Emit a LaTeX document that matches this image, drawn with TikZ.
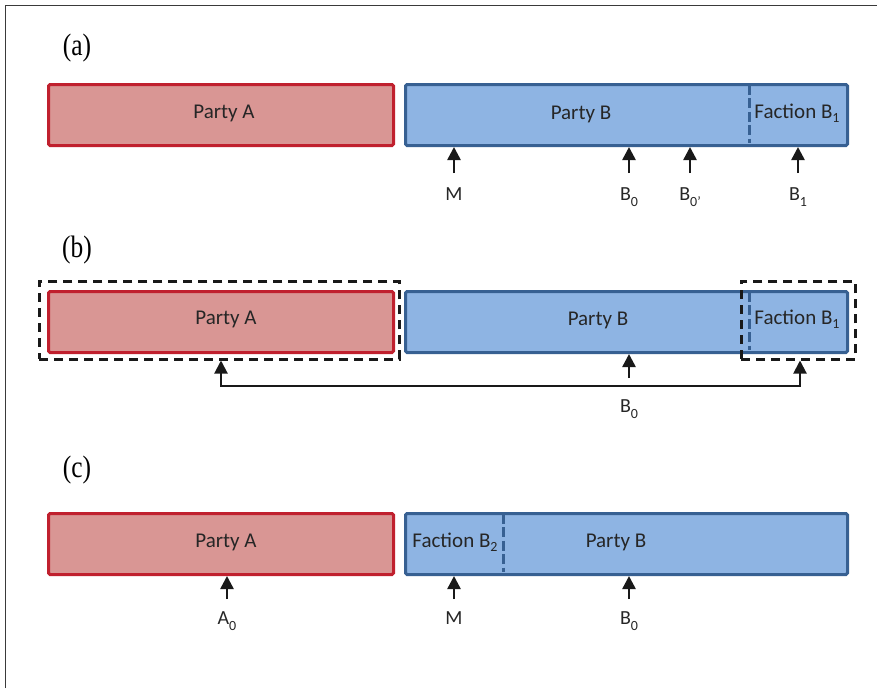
\documentclass[tikz,border=0pt]{standalone}
\usepackage{fontspec}
\setmainfont{Carlito}
\newfontfamily\panelfont{Liberation Serif}
\usetikzlibrary{arrows.meta,calc}

\definecolor{partyAfill}{HTML}{D99694}
\definecolor{partyAline}{HTML}{C0202E}
\definecolor{partyBfill}{HTML}{8EB4E3}
\definecolor{partyBline}{HTML}{376092}
\definecolor{inktext}{HTML}{262626}
\definecolor{frameline}{HTML}{3A3A3A}

% marker label with a low-set index
\newcommand{\lab}[2]{#1\raisebox{-0.7ex}{\fontsize{14}{14}\selectfont #2}}
% subscript inside the party boxes
\newcommand{\idx}[1]{\raisebox{-0.35ex}{\fontsize{14}{14}\selectfont #1}}

\tikzset{
  boxA/.style={draw=partyAline, fill=partyAfill, line width=3pt, rounded corners=1.5pt,
    minimum height=61pt, inner sep=0pt, anchor=north west},
  boxB/.style={draw=partyBline, fill=partyBfill, line width=3pt, rounded corners=1.5pt,
    minimum height=61pt, inner sep=0pt, anchor=north west},
  divider/.style={draw=partyBline, line width=3pt, dash pattern=on 10pt off 3.5pt},
  grouping/.style={draw=black!90, line width=2.5pt, dash pattern=on 9pt off 6pt,
    inner sep=0pt, anchor=north west},
  boxtext/.style={text=inktext, font=\fontsize{21}{21}\selectfont, inner sep=0pt},
  marker/.style={text=inktext, font=\fontsize{20}{20}\selectfont, inner sep=0pt, anchor=north},
  panel/.style={font=\panelfont\fontsize{31}{31}\selectfont, inner sep=0pt},
  arr/.style={draw=black!90, line width=2.5pt,
    -{Triangle[width=13pt,length=13pt]}},
  link/.style={draw=black!90, line width=2pt,
    {Triangle[width=13pt,length=13pt]}-{Triangle[width=13pt,length=13pt]}},
}

\begin{document}
\begin{tikzpicture}[x=1pt, y=-1pt]
  \useasboundingbox (0,0) rectangle (877,688);

  % partial frame (top and left edges)
  \draw[frameline, line width=1.6pt] (5.5,688) -- (5.5,5.5) -- (877,5.5);

  % ---------------- (a) ----------------
  \node[panel] (pa) at (77,48) {\scalebox{0.82}[1]{(a)}};
  \node[boxA, minimum width=345pt] (aA) at (47,83) {};
  \node[boxB, minimum width=442pt] (aB) at (404,83) {};
  \draw[divider] (749,84.5) -- (749,142.5);
  \node[boxtext] (aAt) at (224,113) {Party A};
  \node[boxtext] (aBt) at (581,114) {Party B};
  \node[boxtext] (aFt) at (797,113) {Faction B\idx{1}};

  \node[marker] (aM)  at (454,187) {M};
  \node[marker] (aB0) at (629,187) {\lab{B}{0}};
  \node[marker] (aB0p) at (690,187) {\lab{B}{0’}};
  \node[marker] (aB1) at (798,187) {\lab{B}{1}};
  \foreach \m in {aM,aB0,aB0p,aB1}
    \draw[arr] ($(\m.north)+(0,-14)$) -- (\m.north |- aB.south);

  % ---------------- (b) ----------------
  \node[panel] (pb) at (77,250) {\scalebox{0.82}[1]{(b)}};
  \node[grouping, minimum width=360pt, minimum height=78pt] (gA) at (38,280) {};
  \node[boxA, minimum width=345pt] (bA) at (47,290) {};
  \node[boxB, minimum width=442pt] (bB) at (404,290) {};
  \draw[divider] (749,291.5) -- (749,349.5);
  \node[grouping, minimum width=114pt, minimum height=78pt] (gF) at (740,280) {};
  \node[boxtext] (bAt) at (226,319) {Party A};
  \node[boxtext] (bBt) at (598,320) {Party B};
  \node[boxtext] (bFt) at (797,319) {Faction B\idx{1}};

  \node[marker] (bB0) at (629,399) {\lab{B}{0}};
  \draw[arr] ($(bB0.north)+(0,-21)$) -- (bB0.north |- bB.south);

  \coordinate (jl) at (221,386);
  \coordinate (jr) at (800,386);
  \draw[link] (jl |- gA.south) -- (jl) -- (jr) -- (jr |- gF.south);

  % ---------------- (c) ----------------
  \node[panel] (pc) at (77,470) {\scalebox{0.82}[1]{(c)}};
  \node[boxA, minimum width=345pt] (cA) at (47,512) {};
  \node[boxB, minimum width=442pt] (cB) at (404,512) {};
  \draw[divider] (503,513.5) -- (503,571.5);
  \node[boxtext] (cAt) at (226,542) {Party A};
  \node[boxtext] (cFt) at (455,542) {Faction B\idx{2}};
  \node[boxtext] (cBt) at (616,542) {Party B};

  \node[marker] (cA0) at (227,611) {\lab{A}{0}};
  \node[marker] (cM)  at (454,611) {M};
  \node[marker] (cB0) at (629,611) {\lab{B}{0}};
  \foreach \m in {cA0,cM,cB0}
    \draw[arr] ($(\m.north)+(0,-12)$) -- (\m.north |- cA.south);
\end{tikzpicture}
\end{document}
